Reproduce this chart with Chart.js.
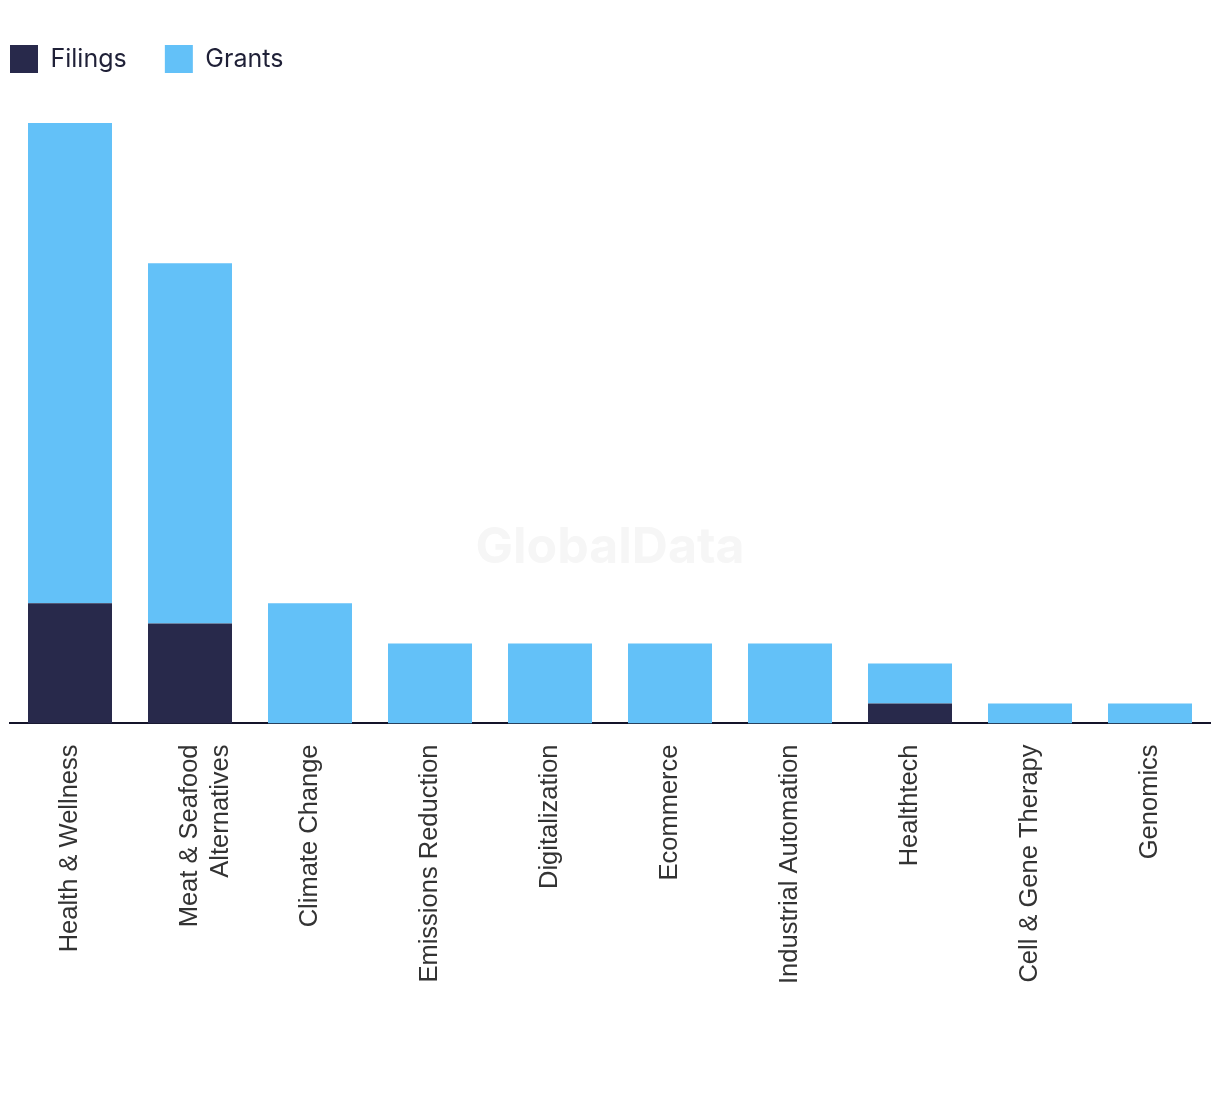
<!DOCTYPE html>
<html>
<head>
<meta charset="utf-8">
<script src="https://cdn.jsdelivr.net/npm/chart.js@4"></script>
<style>
  body { margin: 0; background: #fff; }
  #wrap { width: 1220px; height: 1094px; position: relative; }
</style>
</head>
<body>
<div id="wrap"><canvas id="chart"></canvas></div>
<script>
const categories = [
  "Health & Wellness",
  ["Meat & Seafood", "Alternatives"],
  "Climate Change",
  "Emissions Reduction",
  "Digitalization",
  "Ecommerce",
  "Industrial Automation",
  "Healthtech",
  "Cell & Gene Therapy",
  "Genomics"
];
const filings = [6, 5, 0, 0, 0, 0, 0, 1, 0, 0];
const grants = [24, 18, 6, 4, 4, 4, 4, 2, 1, 1];

// faint watermark in the middle of the plot
const watermark = {
  id: "watermark",
  beforeDatasetsDraw(chart) {
    const ctx = chart.ctx;
    ctx.save();
    ctx.font = "bold 50px Inter, 'Liberation Sans', sans-serif";
    ctx.fillStyle = "#f6f6f6";
    ctx.textAlign = "center";
    ctx.textBaseline = "middle";
    ctx.fillText("GlobalData", 610, 548);
    ctx.restore();
  }
};

const ctx = document.getElementById("chart").getContext("2d");
new Chart(ctx, {
  type: "bar",
  data: {
    labels: categories,
    datasets: [
      {
        label: "Filings    ",
        data: filings,
        backgroundColor: "#28294b",
        barPercentage: 0.7,
        categoryPercentage: 1
      },
      {
        label: "Grants",
        data: grants,
        backgroundColor: "#63c1f8",
        barPercentage: 0.7,
        categoryPercentage: 1
      }
    ]
  },
  options: {
    responsive: true,
    maintainAspectRatio: false,
    animation: false,
    layout: { padding: { top: 35, left: 0, right: 10, bottom: 89 } },
    plugins: {
      legend: {
        position: "top",
        align: "start",
        labels: {
          boxWidth: 28,
          boxHeight: 28,
          padding: 10,
          color: "#1f2037",
          font: { family: "Inter", size: 25 }
        }
      },
      tooltip: { enabled: false }
    },
    scales: {
      x: {
        stacked: true,
        grid: { display: false, drawTicks: false },
        border: { display: true, color: "#14142a", width: 2 },
        ticks: {
          minRotation: 90,
          maxRotation: 90,
          padding: 21,
          color: "#333",
          font: { family: "Liberation Sans", size: 25.5 }
        }
      },
      y: {
        stacked: true,
        display: true,
        min: 0,
        max: 32,
        grid: { display: false },
        border: { display: false },
        ticks: { display: false },
        afterFit(scale) { scale.width = 10; }
      }
    }
  },
  plugins: [watermark]
});
</script>
</body>
</html>
